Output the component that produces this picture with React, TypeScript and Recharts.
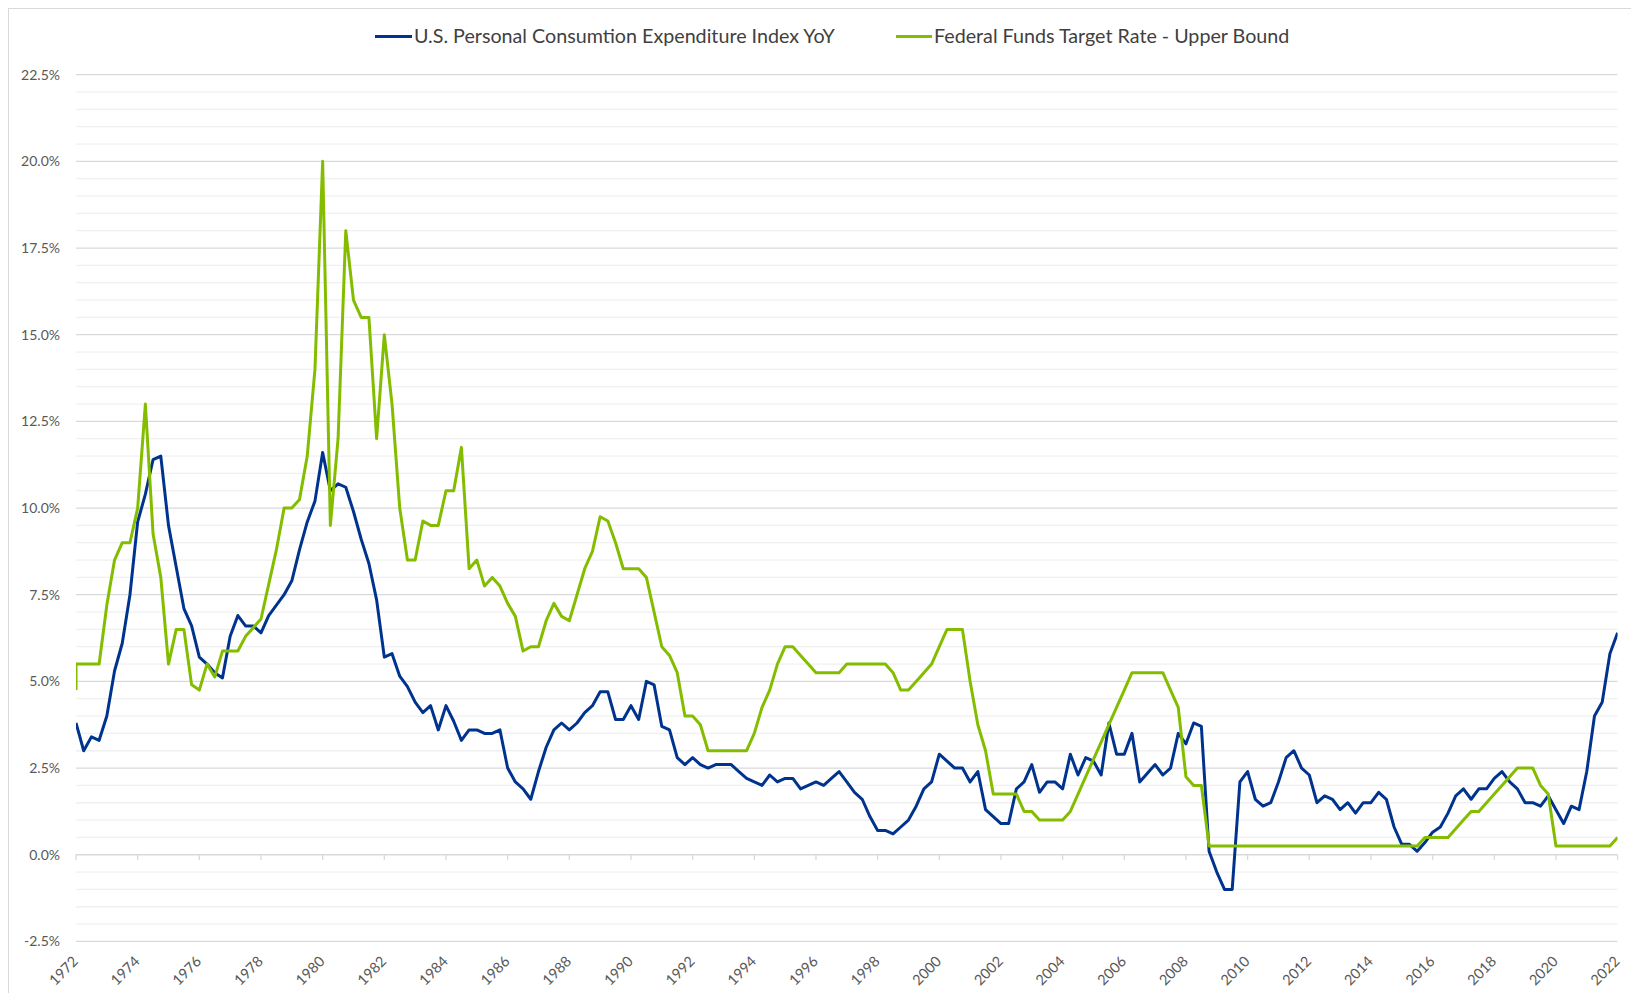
import React from "react";
import { LineChart, Line, XAxis, YAxis, CartesianGrid, ReferenceLine } from "recharts";

const FONT = "Lato, 'Open Sans', 'Noto Sans', sans-serif";

const START_YEAR = 1972;
const yearTicks = [1972, 1974, 1976, 1978, 1980, 1982, 1984, 1986, 1988, 1990, 1992, 1994, 1996, 1998, 2000, 2002, 2004, 2006, 2008, 2010, 2012, 2014, 2016, 2018, 2020, 2022];
const yTicks = [-2.5, 0, 2.5, 5, 7.5, 10, 12.5, 15, 17.5, 20, 22.5];
const yMinorTicks = [-2, -1.5, -1, -0.5, 0.5, 1, 1.5, 2, 3, 3.5, 4, 4.5, 5.5, 6, 6.5, 7, 8, 8.5, 9, 9.5, 10.5, 11, 11.5, 12, 13, 13.5, 14, 14.5, 15.5, 16, 16.5, 17, 18, 18.5, 19, 19.5, 20.5, 21, 21.5, 22];

const seriesNames = ["U.S. Personal Consumtion Expenditure Index YoY", "Federal Funds Target Rate - Upper Bound"];

// Quarterly values, 1972 Q1 .. 2022 Q1
const pceYoY = [
  3.8, 3.0, 3.4, 3.3, 4.0, 5.3, 6.1, 7.5, 9.6, 10.4,
  11.4, 11.5, 9.5, 8.3, 7.1, 6.6, 5.7, 5.5, 5.25, 5.1,
  6.3, 6.9, 6.6, 6.6, 6.4, 6.9, 7.2, 7.5, 7.9, 8.8,
  9.6, 10.2, 11.6, 10.5, 10.7, 10.6, 9.9, 9.1, 8.4, 7.35,
  5.7, 5.8, 5.15, 4.85, 4.4, 4.1, 4.3, 3.6, 4.3, 3.85,
  3.3, 3.6, 3.6, 3.5, 3.5, 3.6, 2.5, 2.1, 1.9, 1.6,
  2.4, 3.1, 3.6, 3.8, 3.6, 3.8, 4.1, 4.3, 4.7, 4.7,
  3.9, 3.9, 4.3, 3.9, 5.0, 4.9, 3.7, 3.6, 2.8, 2.6,
  2.8, 2.6, 2.5, 2.6, 2.6, 2.6, 2.4, 2.2, 2.1, 2.0,
  2.3, 2.1, 2.2, 2.2, 1.9, 2.0, 2.1, 2.0, 2.2, 2.4,
  2.1, 1.8, 1.6, 1.1, 0.7, 0.7, 0.6, 0.8, 1.0, 1.4,
  1.9, 2.1, 2.9, 2.7, 2.5, 2.5, 2.1, 2.4, 1.3, 1.1,
  0.9, 0.9, 1.9, 2.1, 2.6, 1.8, 2.1, 2.1, 1.9, 2.9,
  2.3, 2.8, 2.7, 2.3, 3.8, 2.9, 2.9, 3.5, 2.1, 2.35,
  2.6, 2.3, 2.5, 3.5, 3.2, 3.8, 3.7, 0.1, -0.5, -1.0,
  -1.0, 2.1, 2.4, 1.6, 1.4, 1.5, 2.1, 2.8, 3.0, 2.5,
  2.3, 1.5, 1.7, 1.6, 1.3, 1.5, 1.2, 1.5, 1.5, 1.8,
  1.6, 0.8, 0.3, 0.3, 0.1, 0.35, 0.65, 0.8, 1.2, 1.7,
  1.9, 1.6, 1.9, 1.9, 2.2, 2.4, 2.1, 1.9, 1.5, 1.5,
  1.4, 1.7, 1.3, 0.9, 1.4, 1.3, 2.4, 4.0, 4.4, 5.8,
  6.4,
];

const fedFundsOpening = 4.75;
const fedFundsUpper = [
  5.5, 5.5, 5.5, 5.5, 7.2, 8.5, 9.0, 9.0, 10.0, 13.0,
  9.25, 8.0, 5.5, 6.5, 6.5, 4.9, 4.75, 5.5, 5.125, 5.875,
  5.875, 5.875, 6.3, 6.55, 6.8, 7.8, 8.8, 10.0, 10.0, 10.25,
  11.5, 14.0, 20.0, 9.5, 12.0, 18.0, 16.0, 15.5, 15.5, 12.0,
  15.0, 13.0, 10.0, 8.5, 8.5, 9.625, 9.5, 9.5, 10.5, 10.5,
  11.75, 8.25, 8.5, 7.75, 8.0, 7.75, 7.25, 6.875, 5.875, 6.0,
  6.0, 6.75, 7.25, 6.875, 6.75, 7.5, 8.25, 8.75, 9.75, 9.625,
  9.0, 8.25, 8.25, 8.25, 8.0, 7.0, 6.0, 5.75, 5.25, 4.0,
  4.0, 3.75, 3.0, 3.0, 3.0, 3.0, 3.0, 3.0, 3.5, 4.25,
  4.75, 5.5, 6.0, 6.0, 5.75, 5.5, 5.25, 5.25, 5.25, 5.25,
  5.5, 5.5, 5.5, 5.5, 5.5, 5.5, 5.25, 4.75, 4.75, 5.0,
  5.25, 5.5, 6.0, 6.5, 6.5, 6.5, 5.0, 3.75, 3.0, 1.75,
  1.75, 1.75, 1.75, 1.25, 1.25, 1.0, 1.0, 1.0, 1.0, 1.25,
  1.75, 2.25, 2.75, 3.25, 3.75, 4.25, 4.75, 5.25, 5.25, 5.25,
  5.25, 5.25, 4.75, 4.25, 2.25, 2.0, 2.0, 0.25, 0.25, 0.25,
  0.25, 0.25, 0.25, 0.25, 0.25, 0.25, 0.25, 0.25, 0.25, 0.25,
  0.25, 0.25, 0.25, 0.25, 0.25, 0.25, 0.25, 0.25, 0.25, 0.25,
  0.25, 0.25, 0.25, 0.25, 0.25, 0.5, 0.5, 0.5, 0.5, 0.75,
  1.0, 1.25, 1.25, 1.5, 1.75, 2.0, 2.25, 2.5, 2.5, 2.5,
  2.0, 1.75, 0.25, 0.25, 0.25, 0.25, 0.25, 0.25, 0.25, 0.25,
  0.5,
];

const BLUE = "#00338D";
const GREEN = "#84BD00";

const data = [
  { t: START_YEAR, pce: null as number | null, ff: fedFundsOpening },
  ...pceYoY.map((v, i) => ({ t: START_YEAR + i / 4, pce: v as number | null, ff: fedFundsUpper[i] })),
];

const XTick = (props: any) => {
  const { x, y, payload } = props;
  const ax = x + 3;
  const ay = y + 21;
  return (
    <text x={ax} y={ay} transform={`rotate(-45, ${ax}, ${ay})`} textAnchor="end" fill="#595959" fontSize={14.5} fontFamily={FONT}>
      {payload.value}
    </text>
  );
};

const LegendItem = ({ color, label, left, lineLeft }: { color: string; label: string; left: number; lineLeft: number }) => (
  <>
    <div style={{ position: "absolute", left: lineLeft, top: 35, width: left - lineLeft - 2, height: 3, background: color }} />
    <div style={{ position: "absolute", left, top: 24, height: 24, lineHeight: "24px", fontSize: 19.7, fontFamily: FONT, color: "#404040", whiteSpace: "nowrap" }}>{label}</div>
  </>
);

export default function App() {
  return (
    <div style={{ position: "fixed", left: 0, top: 0, width: 1631, height: 993, overflow: "hidden", background: "#ffffff" }}>
      <div style={{ position: "absolute", left: 8, top: 8, width: 2000, height: 2000, border: "1px solid #d9d9d9", boxSizing: "border-box" }} />
      <div style={{ position: "absolute", left: 0, top: 0 }}>
        <LineChart width={1631} height={993} data={data} margin={{ top: 74.7, right: 13.4, bottom: 0, left: 10 }}>
          <CartesianGrid horizontal={true} vertical={false} stroke="#d9d9d9" strokeWidth={1.3} />
          {yMinorTicks.map((v) => (
            <ReferenceLine key={"m" + v} y={v} stroke="#f0f0f0" strokeWidth={1.3} />
          ))}
          {yearTicks.map((yr) => (
            <ReferenceLine key={"t" + yr} segment={[{ x: yr, y: 0 }, { x: yr, y: -0.15 }]} stroke="#d9d9d9" strokeWidth={1.3} />
          ))}
          <XAxis
            dataKey="t"
            type="number"
            domain={[1972, 2022]}
            ticks={yearTicks}
            allowDataOverflow
            axisLine={false}
            tickLine={false}
            tickSize={0}
            tickMargin={0}
            height={51.6}
            interval={0}
            tick={<XTick />}
          />
          <YAxis
            type="number"
            domain={[-2.5, 22.5]}
            ticks={yTicks}
            allowDataOverflow
            axisLine={false}
            tickLine={false}
            tickSize={0}
            tickMargin={16}
            width={66}
            interval={0}
            tickFormatter={(v: number) => v.toFixed(1) + "%"}
            tick={{ fill: "#595959", fontSize: 14, fontFamily: FONT }}
          />
          <Line type="linear" dataKey="pce" name={seriesNames[0]} stroke={BLUE} strokeWidth={3} dot={false} activeDot={false} isAnimationActive={false} strokeLinejoin="round" />
          <Line type="linear" dataKey="ff" name={seriesNames[1]} stroke={GREEN} strokeWidth={3} dot={false} activeDot={false} isAnimationActive={false} strokeLinejoin="round" />
        </LineChart>
      </div>
      <LegendItem color={BLUE} label={seriesNames[0]} lineLeft={375} left={414} />
      <LegendItem color={GREEN} label={seriesNames[1]} lineLeft={896} left={934} />
    </div>
  );
}
